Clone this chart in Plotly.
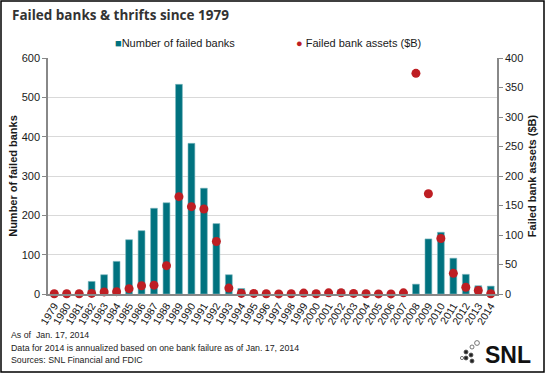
import plotly.graph_objects as go

years = [str(y) for y in range(1979, 2015)]
failed_banks = [0, 0, 0, 32, 49, 83, 138, 161, 218, 232, 533, 383, 269, 179, 49, 14,
                6, 5, 1, 3, 8, 7, 4, 11, 3, 4, 0, 0, 3, 25, 140, 157, 91, 50, 21, 20]
failed_assets = [0.5, 0.5, 0.5, 1, 3.5, 4, 9, 14, 15, 48, 165, 148, 144, 89, 10, 1,
                 1, 0.5, 0.2, 0.5, 1.5, 0.5, 2, 2, 1, 0.5, 0.2, 0.2, 2, 374, 170, 94, 35, 11.5, 6, 0.5]

left_ticks = [0, 100, 200, 300, 400, 500, 600]
right_ticks = [0, 50, 100, 150, 200, 250, 300, 350, 400]

teal = "#00727F"
red = "#BE1E23"
font = "Liberation Sans, Arial, sans-serif"

fig = go.Figure()
fig.add_trace(go.Bar(x=years, y=failed_banks, name="Number of failed banks",
                     marker=dict(color=teal, line=dict(color="#7fb8bf", width=0.6)),
                     width=0.55, yaxis="y", showlegend=False))
fig.add_trace(go.Scatter(x=years, y=failed_assets, name="Failed bank assets ($B)",
                         mode="markers", marker=dict(color=red, size=9),
                         yaxis="y2", cliponaxis=False, showlegend=False))

fig.update_layout(
    width=545, height=373,
    margin=dict(l=48, r=48, t=58, b=79, autoexpand=False),
    paper_bgcolor="white", plot_bgcolor="white",
    font=dict(family=font, size=11, color="#1a1a1a"),
    showlegend=False,
    bargap=0.45,
    xaxis=dict(type="category", tickangle=-58, tickfont=dict(size=10.5, color="#111"),
               range=[-0.5, 35.5], autorange=False,
               tickmode="array", tickvals=years, ticktext=years,
               showline=True, linecolor="#888", linewidth=1.5,
               ticks="", showgrid=False, automargin=False),
    yaxis=dict(range=[0, 600], tickvals=left_ticks, showgrid=True,
               gridcolor="#d9d9d9", gridwidth=1, showline=True, linecolor="#888",
               linewidth=1.5, ticks="outside", ticklen=4, tickcolor="#888",
               zeroline=False,
               title=dict(text="<b>Number of failed banks</b>", font=dict(size=11), standoff=2),
               automargin=False),
    yaxis2=dict(range=[0, 400], tickvals=right_ticks, overlaying="y", side="right",
                showgrid=False, showline=True, linecolor="#888", linewidth=1.5,
                ticks="outside", ticklen=4, tickcolor="#888", zeroline=False,
                title=dict(text="<b>Failed bank assets ($B)</b>", font=dict(size=11), standoff=6),
                automargin=False),
)

# legend (drawn as text so that symbol/text spacing matches the original)
fig.add_annotation(text="<span style='color:%s'>■</span>Number of failed banks" % teal,
                   xref="paper", yref="paper", x=(113 - 48) / 449, y=(294 - 43) / 236,
                   xanchor="left", yanchor="middle", showarrow=False, font=dict(size=11))
fig.add_annotation(text="<span style='color:%s'>●</span> Failed bank assets ($B)" % red,
                   xref="paper", yref="paper", x=(294 - 48) / 449, y=(294 - 43) / 236,
                   xanchor="left", yanchor="middle", showarrow=False, font=dict(size=11))

fig.add_annotation(text="<b>Failed banks & thrifts since 1979</b>", xref="paper", yref="paper",
                   x=(10 - 48) / 449, y=(294 - 15) / 236, xanchor="left", yanchor="middle",
                   showarrow=False,
                   font=dict(size=13.5, color="#333", family="Open Sans, Liberation Sans, sans-serif"))

notes = ["As of  Jan. 17, 2014",
         "Data for 2014 is annualized based on one bank failure as of Jan. 17, 2014",
         "Sources: SNL Financial and FDIC"]
for i, t in enumerate(notes):
    fig.add_annotation(text=t, xref="paper", yref="paper", x=(9 - 48) / 449,
                       y=(294 - (335 + 12.5 * i)) / 236,
                       xanchor="left", yanchor="middle", showarrow=False,
                       font=dict(size=8.8, color="#222"))

fig.add_annotation(text="<b>SNL</b>", xref="paper", yref="paper", x=(533 - 48) / 449,
                   y=(294 - 355) / 236,
                   xanchor="right", yanchor="middle", showarrow=False,
                   font=dict(size=23, color="#111", family="Liberation Sans, Arial"))
# logo dots
dots = [(466, 352, 2.0, True), (471, 355, 2.0, True), (466, 358, 2.0, True), (472, 361, 2.0, True),
        (472, 347, 2.0, False), (477, 343, 2.4, False), (462, 358, 1.6, False)]
for (px, py, r, filled) in dots:
    x0 = (px - r - 48) / 449; x1 = (px + r - 48) / 449
    y0 = (294 - (py + r)) / 236; y1 = (294 - (py - r)) / 236
    fig.add_shape(type="circle", xref="paper", yref="paper", x0=x0, x1=x1, y0=y0, y1=y1,
                  fillcolor="#222" if filled else "white", line=dict(color="#555", width=0.8))

# outer frame
fig.add_shape(type="rect", xref="paper", yref="paper",
              x0=(1 - 48) / 449, x1=(544 - 48) / 449, y0=(294 - 372) / 236, y1=(294 - 1) / 236,
              line=dict(color="#000", width=1.5), fillcolor="rgba(0,0,0,0)", layer="above")

fig.write_html("out.html", post_script="document.body.style.margin='0';",
               config={"displayModeBar": False})
